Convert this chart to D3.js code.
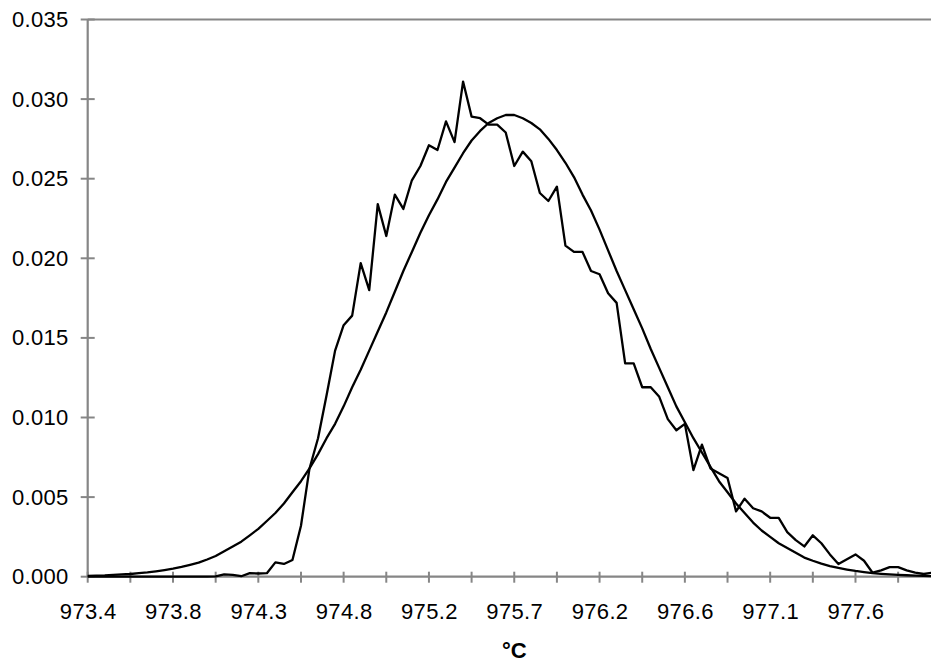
<!DOCTYPE html>
<html>
<head>
<meta charset="utf-8">
<script src="https://cdn.jsdelivr.net/npm/d3@7"></script>
<style>
  html, body { margin: 0; padding: 0; background: #fff; overflow: hidden; }
  svg { display: block; }
  text { font-family: "Liberation Sans", Arial, sans-serif; fill: #000; }
</style>
</head>
<body>
<svg id="chart" width="931" height="662"></svg>
<script>
// Category positions 0..100 (step ≈ 0.0467 °C); labels shown every 10 categories
const labelIndex = [0, 10, 20, 30, 40, 50, 60, 70, 80, 90];
const tickLabels = ["973.4", "973.8", "974.3", "974.8", "975.2", "975.7", "976.2", "976.6", "977.1", "977.6"];
const yTicks = [0, 0.005, 0.010, 0.015, 0.020, 0.025, 0.030, 0.035];

// Measured (jagged) series
const measured = [
  0, 0, 0, 0, 0, 0, 0, 0, 0, 0,
  0, 0, 0, 0, 0, 0.00002, 0.00015, 0.00012, 0.00003, 0.00022,
  0.0002, 0.00022, 0.0009, 0.0008, 0.00105, 0.0032, 0.0068, 0.0087, 0.0114, 0.0142,
  0.0158, 0.0164, 0.0197, 0.0180, 0.0234, 0.0214, 0.0240, 0.0231, 0.0249, 0.0258,
  0.0271, 0.0268, 0.0286, 0.0273, 0.0311, 0.0289, 0.0288, 0.0284, 0.0284, 0.0279,
  0.0258, 0.0267, 0.0261, 0.0241, 0.0236, 0.0245, 0.0208, 0.0204, 0.0204, 0.0192,
  0.0190, 0.0178, 0.0172, 0.0134, 0.0134, 0.0119, 0.0119, 0.0113, 0.0099, 0.0092,
  0.0096, 0.0067, 0.0083, 0.0068, 0.0065, 0.0062, 0.0041, 0.0049, 0.0043, 0.0041,
  0.0037, 0.0037, 0.0028, 0.0023, 0.0019, 0.0026, 0.0021, 0.0014, 0.0008, 0.0011,
  0.0014, 0.0010, 0.00025, 0.0004, 0.0006, 0.0006, 0.0004, 0.00025, 0.00017, 0.00025,
  0.0002
];

// Fitted (smooth) series
const fitted = [
  0.00005, 0.00007, 0.00008, 0.00011, 0.00014, 0.00017, 0.00022, 0.00027, 0.00034, 0.00042,
  0.00051, 0.00062, 0.00075, 0.00088, 0.00108, 0.0013, 0.0016, 0.0019, 0.0022, 0.0026,
  0.0030, 0.0035, 0.0040, 0.0046, 0.0053, 0.0060, 0.0068, 0.0077, 0.0087, 0.0096,
  0.0107, 0.0119, 0.0130, 0.0142, 0.0154, 0.0166, 0.0179, 0.0192, 0.0204, 0.0216,
  0.0227, 0.0237, 0.0248, 0.0257, 0.0266, 0.0274, 0.0280, 0.0285, 0.0288, 0.0290,
  0.0290, 0.0288, 0.0285, 0.0281, 0.0275, 0.0268, 0.0260, 0.0251, 0.0240, 0.0230,
  0.0218, 0.0205, 0.0192, 0.0180, 0.0168, 0.0156, 0.0143, 0.0131, 0.0119, 0.0107,
  0.0097, 0.0087, 0.0078, 0.0069, 0.0060, 0.0053, 0.0046, 0.0040, 0.0034, 0.0029,
  0.0025, 0.0021, 0.0018, 0.0015, 0.0012, 0.0010, 0.00082, 0.00067, 0.00055, 0.00045,
  0.00036, 0.00029, 0.00023, 0.00018, 0.00014, 0.00011, 0.00009, 0.00007, 0.00005, 0.00004,
  0.00003
];

const svg = d3.select("#chart");
svg.append("rect").attr("width", 931).attr("height", 662).attr("fill", "#fff");

const mLeft = 87.7, mRight = 940.8, mTop = 19.5, mBottom = 576.7;
const x = d3.scaleLinear().domain([0, measured.length - 1]).range([mLeft, mRight]);
const y = d3.scaleLinear().domain([0, 0.035]).range([mBottom, mTop]);

const axisColor = "#868686";
const fontFam = '"Liberation Sans", Arial, sans-serif';

// top border of plot area
svg.append("line")
  .attr("x1", mLeft).attr("x2", mRight + 5)
  .attr("y1", y(0.035)).attr("y2", y(0.035))
  .attr("stroke", axisColor).attr("stroke-width", 2);

// Y axis
const yAxis = d3.axisLeft(y).tickValues(yTicks).tickFormat(d3.format(".3f")).tickSize(0).tickPadding(19);
const gy = svg.append("g").attr("transform", `translate(${mLeft},0)`).call(yAxis);
gy.select(".domain").remove();
gy.selectAll("text").attr("font-size", 22).attr("letter-spacing", 0.35).style("font-family", fontFam);
svg.append("g").selectAll("line").data(yTicks).join("line")
  .attr("x1", mLeft - 7).attr("x2", mLeft + 7)
  .attr("y1", d => y(d)).attr("y2", d => y(d))
  .attr("stroke", axisColor).attr("stroke-width", 2);
svg.append("line")
  .attr("x1", mLeft).attr("x2", mLeft)
  .attr("y1", mTop).attr("y2", mBottom)
  .attr("stroke", axisColor).attr("stroke-width", 2.2);

// X axis
const tickIdx = d3.range(0, measured.length, 5);
svg.append("line")
  .attr("x1", mLeft).attr("x2", mRight + 5)
  .attr("y1", mBottom).attr("y2", mBottom)
  .attr("stroke", axisColor).attr("stroke-width", 2.2);
svg.append("g").selectAll("line").data(tickIdx).join("line")
  .attr("x1", d => x(d)).attr("x2", d => x(d))
  .attr("y1", mBottom - 5).attr("y2", mBottom + 6)
  .attr("stroke", axisColor).attr("stroke-width", 2);
const xAxis = d3.axisBottom(x).tickValues(labelIndex)
  .tickFormat((d, i) => tickLabels[i]).tickSize(0).tickPadding(27);
const gx = svg.append("g").attr("transform", `translate(0,${mBottom})`).call(xAxis);
gx.select(".domain").remove();
gx.selectAll("text").attr("font-size", 22).attr("letter-spacing", 0.35).style("font-family", fontFam);

// Axis title
svg.append("text")
  .attr("x", (mLeft + mRight) / 2).attr("y", 657.5)
  .attr("text-anchor", "middle")
  .attr("font-size", 22).attr("font-weight", "bold")
  .text("°C");

// Lines
const line = d3.line().x((d, i) => x(i)).y(d => y(d));
svg.append("path").datum(fitted)
  .attr("d", line).attr("fill", "none")
  .attr("stroke", "#000").attr("stroke-width", 2.3).attr("stroke-linejoin", "round");
svg.append("path").datum(measured)
  .attr("d", line).attr("fill", "none")
  .attr("stroke", "#000").attr("stroke-width", 2.3).attr("stroke-linejoin", "round");
</script>
</body>
</html>
